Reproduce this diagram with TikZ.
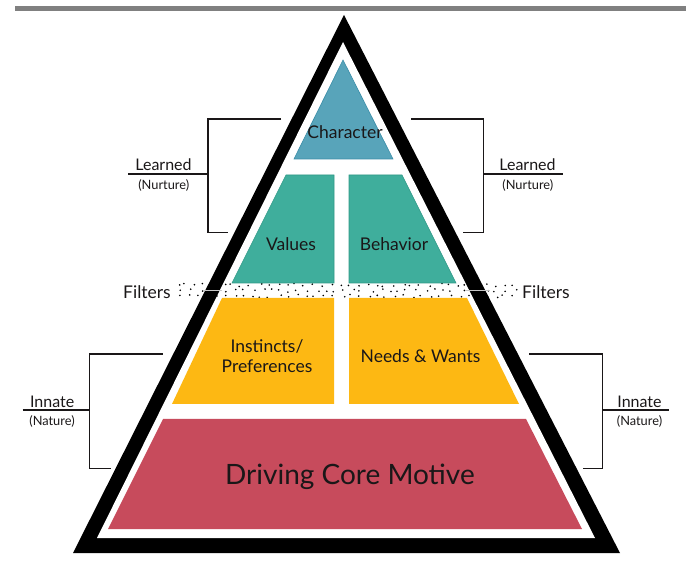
\documentclass[tikz,border=0pt]{standalone}
\usepackage{fontspec}
\setmainfont{Lato}
\definecolor{txt}{HTML}{1A1718}
\definecolor{barg}{HTML}{808080}
\definecolor{charc}{HTML}{58A4BA}
\definecolor{charb}{HTML}{3A8DA8}
\definecolor{valc}{HTML}{3FAE9C}
\definecolor{valb}{HTML}{2E9986}
\definecolor{yelc}{HTML}{FDB813}
\definecolor{redc}{HTML}{C74B5C}
\tikzset{
  lbl/.style={text=txt, inner sep=0pt, align=center, font=\fontsize{17.5}{20}\selectfont},
  side/.style={text=txt, inner sep=0pt, font=\fontsize{16}{18}\selectfont},
  sub/.style={text=txt, inner sep=0pt, font=\fontsize{12.8}{14}\selectfont},
  brk/.style={draw=txt, line width=1.6pt},
}
\begin{document}
\begin{tikzpicture}[x=1pt,y=-1pt]
\useasboundingbox (0,0) rectangle (686,561);
% top bar
\fill[barg] (15,6) rectangle (686,11.5);
% frame triangle
\fill[black] (344,15) -- (73,553) -- (620,553) -- cycle;
\fill[white] (343,42) -- (97,538) -- (595,538) -- cycle;
% filter dots: three loose rows, jittered grid
\pgfmathsetseed{5}
\foreach \ry/\off in {285/0,290.5/4,296/2}{
  \foreach \k in {0,...,37}{
    \pgfmathsetmacro\dx{178+\off+9*\k+3.5*rand}
    \pgfmathsetmacro\dy{\ry+1.6*rand}
    \fill[black] (\dx,\dy) circle (0.9pt);
  }
}
\draw[gray!45, line width=0.8pt] (203,290.7) -- (222,290.7);
\draw[gray!45, line width=0.8pt] (466,290.7) -- (489,290.7);
% layers
\filldraw[fill=charc, draw=charb, line width=0.6pt] (343,60) -- (294,159) -- (393,159) -- cycle;
\filldraw[fill=valc, draw=valb, line width=0.6pt] (286,175) -- (334,175) -- (334,283) -- (232,283) -- cycle;
\filldraw[fill=valc, draw=valb, line width=0.6pt] (349,175) -- (402,175) -- (456,283) -- (349,283) -- cycle;
\fill[yelc] (222,298) -- (334,298) -- (334,404) -- (172,404) -- cycle;
\fill[yelc] (349,298) -- (467,298) -- (519,404) -- (349,404) -- cycle;
\fill[redc] (163,419) -- (526,419) -- (582,529) -- (108,529) -- cycle;
% labels
\node[lbl] (character) at (345,132) {Character};
\node[lbl] (values) at (291,244) {Values};
\node[lbl] (behavior) at (394,244) {Behavior};
\node[lbl] (instincts) at (267,356) {Instincts/\\Preferences};
\node[lbl] (needs) at (420.5,356) {Needs \& Wants};
\node[text=txt, inner sep=0pt, font=\fontsize{28}{32}\selectfont] (core) at (350,477) {Driving Core Motive};
\node[lbl, anchor=east] (filtl) at (171,292) {Filters};
\node[lbl, anchor=west] (filtr) at (522,292) {Filters};
% left learned bracket
\draw[brk] (281,119) -- (207.7,119) -- (207.7,232.7) -- (228.3,232.7);
\draw[brk] (128.3,174) -- (207.7,174);
\node[side, anchor=base] (learnl) at (163.5,170.5) {Learned};
\node[sub] (nurtl) at (163.7,185) {(Nurture)};
% right learned bracket
\draw[brk] (411,119) -- (483.3,119) -- (483.3,232.7) -- (463.3,232.7);
\draw[brk] (483.3,174) -- (563.3,174);
\node[side, anchor=base] (learnr) at (527.5,170.5) {Learned};
\node[sub] (nurtr) at (527.8,185) {(Nurture)};
% left innate bracket
\draw[brk] (162.7,354.3) -- (89.3,354.3) -- (89.3,468.3) -- (110.7,468.3);
\draw[brk] (22.7,410.3) -- (89.3,410.3);
\node[side, anchor=base] (innl) at (52.2,407.5) {Innate};
\node[sub] (natl) at (52,421) {(Nature)};
% right innate bracket
\draw[brk] (529.3,354.3) -- (602.3,354.3) -- (602.3,468.3) -- (582.7,468.3);
\draw[brk] (602.3,410.3) -- (669.3,410.3);
\node[side, anchor=base] (innr) at (639.5,407.5) {Innate};
\node[sub] (natr) at (639.5,421) {(Nature)};
\end{tikzpicture}
\end{document}
